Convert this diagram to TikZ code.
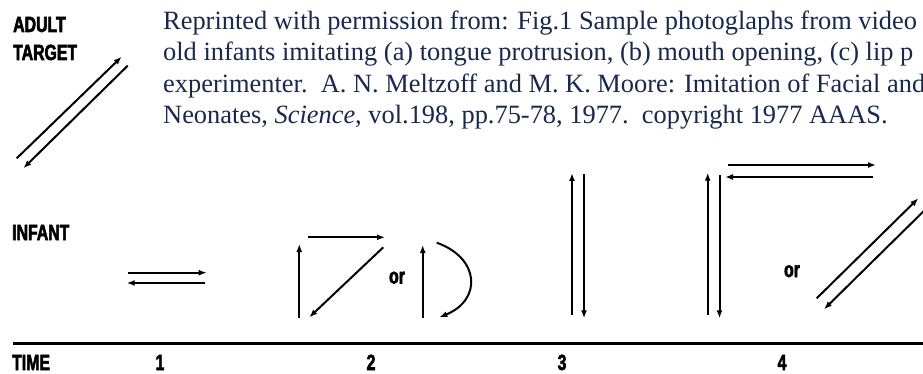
\documentclass[tikz,border=0pt]{standalone}
\usepackage{fontspec}
\setmainfont{Liberation Serif}
\newfontfamily\lblfont{Liberation Sans}[UprightFont={* Bold}, FakeStretch=0.72, FakeBold=2.5]
\usetikzlibrary{arrows.meta}
\definecolor{capnavy}{RGB}{25,40,75}
\begin{document}
\begin{tikzpicture}[x=1pt,y=-1pt,
  lbl/.style={inner sep=0pt, font=\lblfont\fontsize{22}{22}\selectfont, anchor=base west},
  num/.style={inner sep=0pt, font=\lblfont\fontsize{22}{22}\selectfont, anchor=base},
  captxt/.style={inner sep=0pt, font=\fontsize{26.4}{31.5}\selectfont, text=capnavy, anchor=base west},
  arr/.style={line width=2pt, -{Latex[length=8pt,width=6pt]}},
  timeline/.style={line width=3pt}
]
\useasboundingbox (0,0) rectangle (923,374);
\clip (0,0) rectangle (923,374);
\fill[white] (0,0) rectangle (923,374);

% caption text
\node[captxt] (l1) at (163,29.5) {Reprinted with permission from: Fig.1 Sample photoglaphs from video};
\node[captxt] (l2) at (163,61) {old infants imitating (a) tongue protrusion, (b) mouth opening, (c) lip p};
\node[captxt] (l3) at (163,92.5) {experimenter.\ \ A. N. Meltzoff and M. K. Moore: Imitation of Facial and};
\node[captxt] (l4) at (163,124) {Neonates, \textit{Science}, vol.198, pp.75-78, 1977.\ \ copyright 1977 AAAS.};

% labels
\node[lbl] (adult) at (13,32) {ADULT};
\node[lbl] (target) at (13,60) {TARGET};
\node[lbl] (infant) at (12,240) {INFANT};
\node[lbl] (time) at (12,370) {TIME};
\node[num] (n1) at (160,370) {1};
\node[num] (n2) at (371,370) {2};
\node[num] (n3) at (562,370) {3};
\node[num] (n4) at (782,370) {4};
\node[num] (or2) at (397,283.5) {or};
\node[num] (or4) at (792,277) {or};

% time line
\coordinate (tl0) at (13,343);
\coordinate (tl1) at (930,343);
\draw[timeline] (tl0) -- (tl1);

% adult target
\coordinate (a1s) at (16.7,158.3);
\coordinate (a1e) at (121.7,56.7);
\coordinate (a2s) at (127.7,65.7);
\coordinate (a2e) at (23.3,168.3);
\draw[arr] (a1s) -- (a1e);
\draw[arr] (a2s) -- (a2e);

% time 1
\coordinate (p1s) at (128,272.7);
\coordinate (p1e) at (206.7,272.7);
\coordinate (p2s) at (205,283);
\coordinate (p2e) at (126.7,283);
\draw[arr] (p1s) -- (p1e);
\draw[arr] (p2s) -- (p2e);

% time 2
\coordinate (q1s) at (299.3,318.3);
\coordinate (q1e) at (299.3,244);
\coordinate (q2s) at (308.3,237.3);
\coordinate (q2e) at (385,237.3);
\coordinate (q3s) at (383.3,247.3);
\coordinate (q3e) at (309.3,317.3);
\coordinate (q4s) at (422.7,318.3);
\coordinate (q4e) at (422.7,245);
\coordinate (q5s) at (436.7,242.7);
\coordinate (q5e) at (439.3,317.3);
\draw[arr] (q1s) -- (q1e);
\draw[arr] (q2s) -- (q2e);
\draw[arr] (q3s) -- (q3e);
\draw[arr] (q4s) -- (q4e);
\draw[arr] (q5s) .. controls (480,258) and (482,300) .. (q5e);

% time 3
\coordinate (r1s) at (572,315);
\coordinate (r1e) at (572,173);
\coordinate (r2s) at (584,174);
\coordinate (r2e) at (584,318.3);
\draw[arr] (r1s) -- (r1e);
\draw[arr] (r2s) -- (r2e);

% time 4
\coordinate (s1s) at (707.7,315);
\coordinate (s1e) at (707.7,172.7);
\coordinate (s2s) at (719.5,175);
\coordinate (s2e) at (719.5,318.3);
\coordinate (s3s) at (728.3,165);
\coordinate (s3e) at (876,165);
\coordinate (s4s) at (873.3,177);
\coordinate (s4e) at (725,177);
\coordinate (s5s) at (816.7,298.3);
\coordinate (s5e) at (918.3,198.3);
\coordinate (s6s) at (935,200);
\coordinate (s6e) at (824,309.3);
\draw[arr] (s1s) -- (s1e);
\draw[arr] (s2s) -- (s2e);
\draw[arr] (s3s) -- (s3e);
\draw[arr] (s4s) -- (s4e);
\draw[arr] (s5s) -- (s5e);
\draw[arr] (s6s) -- (s6e);
\end{tikzpicture}
\end{document}
